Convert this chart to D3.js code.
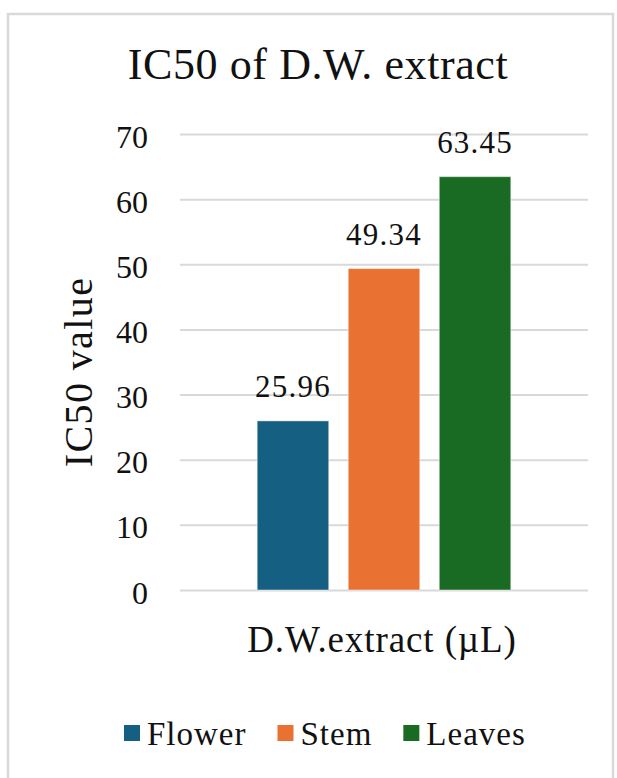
<!DOCTYPE html>
<html>
<head>
<meta charset="utf-8">
<script src="https://cdn.jsdelivr.net/npm/d3@7"></script>
<style>
  html, body { margin: 0; padding: 0; background: #fff; }
  svg { display: block; }
  text { font-family: "Liberation Serif", "Times New Roman", serif; fill: #111; }
</style>
</head>
<body>
<script>
// ---- data ----
const title = "IC50 of D.W. extract";
const categories = ["D.W.extract (µL)"];
const series = ["Flower", "Stem", "Leaves"];
const values = [25.96, 49.34, 63.45];
const colors = ["#156082", "#E97132", "#196B24"];
const yTicks = [0, 10, 20, 30, 40, 50, 60, 70];
const yTitle = "IC50 value";

// ---- layout ----
const W = 617, H = 778;
const plot = { left: 180, right: 588, top: 134, bottom: 590 };

const svg = d3.select("body").append("svg").attr("width", W).attr("height", H);
svg.append("rect").attr("width", W).attr("height", H).attr("fill", "#fff");

// frame
svg.append("rect")
  .attr("x", 8).attr("y", 14).attr("width", 605).attr("height", 820)
  .attr("fill", "none").attr("stroke", "#d9d9d9").attr("stroke-width", 2.5);

// title
svg.append("text")
  .attr("x", 318).attr("y", 79)
  .attr("text-anchor", "middle")
  .style("font-size", "44px").style("letter-spacing", "0.6px")
  .text(title);

const y = d3.scaleLinear().domain([0, 70]).range([plot.bottom, plot.top]);
const x0 = d3.scaleBand().domain(categories).range([plot.left, plot.right])
  .paddingInner(0).paddingOuter(0.247);
const x1 = d3.scaleBand().domain(series).range([0, x0.bandwidth()])
  .paddingInner(0.214).paddingOuter(0.107);

// y axis + gridlines
const yAxis = d3.axisLeft(y).tickValues(yTicks).tickSize(-(plot.right - plot.left)).tickPadding(32);
const gy = svg.append("g").attr("transform", `translate(${plot.left},0)`).call(yAxis);
gy.select(".domain").remove();
gy.selectAll(".tick line").attr("stroke", "#d9d9d9").attr("stroke-width", 2);
gy.selectAll(".tick text")
  .attr("dy", "0.41em")
  .attr("fill", "#111")
  .style("font-family", '"Liberation Serif", "Times New Roman", serif')
  .style("font-size", "32px");

// bars
const g = svg.append("g").attr("transform", `translate(${x0(categories[0])},0)`);
g.selectAll("rect.bar").data(series).join("rect")
  .attr("class", "bar")
  .attr("x", d => x1(d))
  .attr("width", x1.bandwidth())
  .attr("y", (d, i) => y(values[i]))
  .attr("height", (d, i) => y(0) - y(values[i]))
  .attr("fill", (d, i) => colors[i])
  .attr("stroke", "rgba(255,255,255,0.45)").attr("stroke-width", 1);

// data labels
g.selectAll("text.lbl").data(series).join("text")
  .attr("class", "lbl")
  .attr("x", d => x1(d) + x1.bandwidth() / 2)
  .attr("y", (d, i) => y(values[i]) - 23.5)
  .attr("text-anchor", "middle")
  .style("font-size", "31px").style("letter-spacing", "1.2px")
  .text((d, i) => values[i].toFixed(2));

// x axis title (category)
svg.append("text")
  .attr("x", x0(categories[0]) + x0.bandwidth() / 2 - 2)
  .attr("y", 652)
  .attr("text-anchor", "middle")
  .style("font-size", "37px").style("letter-spacing", "0.9px")
  .text(categories[0]);

// y axis title
svg.append("text")
  .attr("transform", "translate(92,372) rotate(-90)")
  .attr("text-anchor", "middle")
  .style("font-size", "40px").style("letter-spacing", "1.4px")
  .text(yTitle);

// legend
const legend = svg.append("g");
let lx = 124;
const sq = 16, ly = 745;
series.forEach((s, i) => {
  legend.append("rect").attr("x", lx).attr("y", ly - 20).attr("width", sq).attr("height", sq)
    .attr("fill", colors[i]);
  const t = legend.append("text").attr("x", lx + sq + 7).attr("y", ly)
    .style("font-size", "33px").style("letter-spacing", "1px").text(s);
  const w = t.node().getComputedTextLength();
  lx = lx + sq + 7 + w + 31;
});
</script>
</body>
</html>
